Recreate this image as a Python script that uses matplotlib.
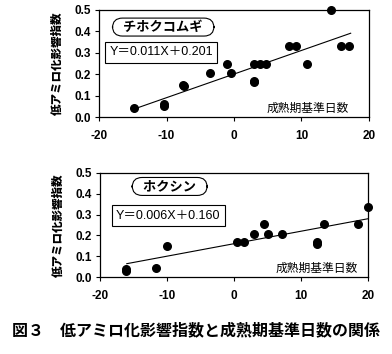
import matplotlib
matplotlib.use("Agg")
import matplotlib.pyplot as plt
import numpy as np

plt.rcParams['font.family'] = ['Noto Sans CJK JP', 'DejaVu Sans']

# チホクコムギ
x_chiho = [-14.9, -10.4, -10.4, -7.5, -7.4, -3.6, -1.0, -0.4, 2.9, 3.0, 2.9, 3.9, 4.7, 8.2, 9.2, 10.8, 14.4, 15.9, 17.0]
y_chiho = [0.045, 0.05, 0.06, 0.15, 0.145, 0.205, 0.25, 0.205, 0.17, 0.165, 0.25, 0.25, 0.25, 0.333, 0.333, 0.25, 0.5, 0.333, 0.333]
fit_chiho = (0.011, 0.201)
range_chiho = (-14.9, 17.3)

# ホクシン
x_hoku = [-16.1, -16.1, -11.6, -10.0, 0.5, 1.5, 3.0, 4.5, 5.1, 7.1, 12.4, 12.4, 13.4, 18.5, 20.0]
y_hoku = [0.03, 0.037, 0.045, 0.148, 0.169, 0.169, 0.206, 0.255, 0.206, 0.206, 0.16, 0.17, 0.255, 0.255, 0.335]
fit_hoku = (0.006, 0.160)
range_hoku = (-16.0, 20.0)

xticks = [-20, -10, 0, 10, 20]
yticks = [0.0, 0.1, 0.2, 0.3, 0.4, 0.5]

num_font = ['Liberation Sans', 'Noto Sans CJK JP']


def draw_panel(ax, xs, ys, fit, xr, name, eq, name_pos, eq_pos, xlab_pos):
    lx = np.array(xr)
    ax.plot(lx, fit[0] * lx + fit[1], color="black", lw=0.8, zorder=2)
    ax.scatter(xs, ys, s=30, color="black", zorder=3, clip_on=False)
    ax.set_xlim(-20, 20)
    ax.set_ylim(0, 0.5)
    ax.set_xticks(xticks)
    ax.set_yticks(yticks)
    ax.set_xticklabels([str(t) for t in xticks], family="Liberation Sans", weight="bold", fontsize=8.5)
    ax.set_yticklabels(["%.1f" % t for t in yticks], family="Liberation Sans", weight="bold", fontsize=8.5)
    ax.tick_params(axis="x", direction="out", length=3, width=0.8, pad=6)
    ax.tick_params(axis="y", direction="out", length=3, width=0.8, pad=3)
    for s in ax.spines.values():
        s.set_linewidth(0.9)
    ax.set_ylabel("低アミロ化影響指数", fontsize=8.3, weight="heavy", labelpad=8)
    ax.text(xlab_pos[0], xlab_pos[1], "成熟期基準日数", ha="right", va="center", fontsize=8.5)
    ax.text(name_pos[0], name_pos[1], "   " + name + "   ", ha="center", va="center", fontsize=9.5,
            weight="bold",
            bbox=dict(boxstyle="round,pad=0.15,rounding_size=0.75", fc="white", ec="black", lw=0.8))
    ax.text(eq_pos[0], eq_pos[1], eq, ha="center", va="center", fontsize=9, family=num_font,
            bbox=dict(boxstyle="square,pad=0.35", fc="white", ec="black", lw=0.8))


fig = plt.figure(figsize=(3.92, 3.54), dpi=100)
ax1 = fig.add_axes([0.253, 0.669, 0.688, 0.303])
ax2 = fig.add_axes([0.255, 0.2175, 0.684, 0.294])

draw_panel(ax1, x_chiho, y_chiho, fit_chiho, range_chiho, "チホクコムギ",
           "Y＝0.011X＋0.201", (-10.5, 0.42), (-10.8, 0.303), (17.0, 0.04))
draw_panel(ax2, x_hoku, y_hoku, fit_hoku, range_hoku, "ホクシン",
           "Y＝0.006X＋0.160", (-9.6, 0.435), (-9.8, 0.294), (18.4, 0.043))

fig.text(0.5, 0.068, "図３　低アミロ化影響指数と成熟期基準日数の関係", ha="center", va="center",
         fontsize=11.5, weight="bold")

fig.savefig("out.png", dpi=100)
